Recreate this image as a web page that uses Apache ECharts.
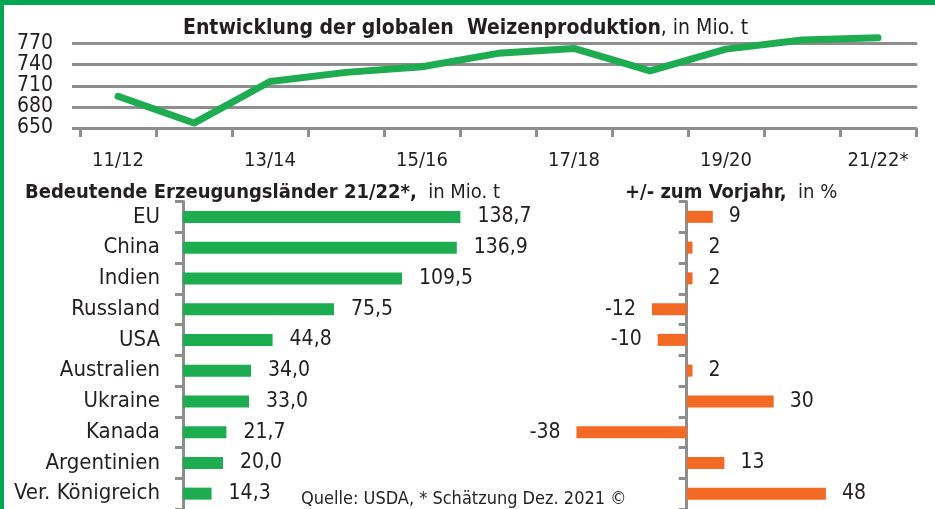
<!DOCTYPE html>
<html>
<head>
<meta charset="utf-8">
<script src="https://cdn.jsdelivr.net/npm/echarts@6/dist/echarts.min.js"></script>
<style>
  html, body { margin: 0; padding: 0; background: #fff; }
  #chart { width: 935px; height: 509px; }
</style>
</head>
<body>
<div id="chart"></div>
<script>
    // Weltweite Weizenproduktion, Mio. t
    var seasons = ['11/12', '12/13', '13/14', '14/15', '15/16', '16/17', '17/18', '18/19', '19/20', '20/21', '21/22*'];
    var production = [695, 657, 716, 729, 737, 756, 763, 731, 762, 775, 778];
    var yTicks = [650, 680, 710, 740, 770];

    // Erzeugungslaender 21/22
    var countries = ['EU', 'China', 'Indien', 'Russland', 'USA', 'Australien', 'Ukraine', 'Kanada', 'Argentinien', 'Ver. Königreich'];
    var volume = [138.7, 136.9, 109.5, 75.5, 44.8, 34.0, 33.0, 21.7, 20.0, 14.3];
    var change = [9, 2, 2, -12, -10, 2, 30, -38, 13, 48];

    var font = "'Liberation Sans Narrow', 'DejaVu Sans Condensed', Roboto, sans-serif";
    var ink = '#231f20';
    var gray = '#8e8e8e';
    var green = '#1dac50';
    var orange = '#f26a24';

    var catAxisBars = function (gridIndex, showLabels) {
        return {
            type: 'category',
            gridIndex: gridIndex,
            inverse: true,
            data: countries,
            axisLine: { show: true, onZero: true, lineStyle: { color: gray, width: 3 } },
            axisTick: { show: true, interval: 0, length: 8, lineStyle: { color: gray, width: 3 } },
            axisLabel: {
                show: showLabels, interval: 0, margin: 23,
                fontFamily: font, fontSize: 22, color: ink
            },
            splitLine: { show: false }
        };
    };

    var richTitle = function (size) {
        return {
            b: { fontFamily: font, fontSize: size, fontWeight: 'bold', color: ink },
            r: { fontFamily: font, fontSize: size, fontWeight: 'normal', color: ink }
        };
    };

    var option = {
        animation: false,
        backgroundColor: '#fff',
        textStyle: { fontFamily: font },
        grid: [
            { left: 80, top: 43.5, width: 836, height: 84.5 },
            { left: 183, top: 201.5, width: 400, height: 309 },
            { left: 541.7, top: 201.5, width: 319, height: 309 }
        ],
        xAxis: [
            {
                type: 'category',
                gridIndex: 0,
                data: seasons,
                boundaryGap: true,
                axisLine: { show: true, lineStyle: { color: gray, width: 3, cap: 'round' } },
                axisTick: { show: true, interval: 0, length: 9, lineStyle: { color: gray, width: 3 } },
                axisLabel: { interval: 1, margin: 23, fontFamily: font, fontSize: 20, color: ink }
            },
            { type: 'value', gridIndex: 1, min: 0, max: 200, show: false },
            { type: 'value', gridIndex: 2, min: -50, max: 60, show: false }
        ],
        yAxis: [
            {
                type: 'value',
                gridIndex: 0,
                min: yTicks[0],
                max: yTicks[yTicks.length - 1],
                interval: 30,
                axisLine: { show: false },
                axisTick: { show: true, length: 8, lineStyle: { color: gray, width: 3 } },
                axisLabel: {
                    margin: 27, fontFamily: font, fontSize: 21, color: ink,
                    showMinLabel: true, showMaxLabel: true, hideOverlap: false
                },
                splitLine: { show: true, lineStyle: { color: gray, width: 3, cap: 'round' } }
            },
            catAxisBars(1, true),
            catAxisBars(2, false)
        ],
        title: [
            {
                text: '{b|Entwicklung der globalen  Weizenproduktion}{r|, in Mio. t}',
                left: 183, top: 18, padding: 0,
                textStyle: { rich: richTitle(21) }
            },
            {
                text: '{b|Bedeutende Erzeugungsländer 21/22*,}{r|  in Mio. t}',
                left: 25, top: 183, padding: 0,
                textStyle: { rich: richTitle(20) }
            },
            {
                text: '{b|+/- zum Vorjahr,}{r|  in %}',
                left: 625, top: 183, padding: 0,
                textStyle: { rich: richTitle(20) }
            }
        ],
        graphic: [
            { type: 'rect', shape: { x: 0, y: 0, width: 935, height: 5 }, style: { fill: '#00a650' }, z: 100 },
            { type: 'rect', shape: { x: 0, y: 0, width: 4, height: 509 }, style: { fill: '#00a650' }, z: 100 },
            {
                type: 'text', left: 301, top: 490, z: 100,
                style: { text: 'Quelle: USDA, * Schätzung Dez. 2021 ©', fontFamily: font, fontSize: 18, fill: ink }
            }
        ],
        series: [
            {
                type: 'line',
                xAxisIndex: 0,
                yAxisIndex: 0,
                data: production,
                clip: false,
                symbol: 'none',
                lineStyle: { color: green, width: 7, cap: 'round', join: 'round' },
                z: 5
            },
            {
                type: 'bar',
                xAxisIndex: 1,
                yAxisIndex: 1,
                data: volume,
                barWidth: 12,
                itemStyle: { color: green },
                label: {
                    show: true, position: 'right', distance: 17,
                    fontFamily: font, fontSize: 21, color: ink,
                    formatter: function (p) { return p.value.toFixed(1).replace('.', ','); }
                }
            },
            {
                type: 'bar',
                xAxisIndex: 2,
                yAxisIndex: 2,
                data: change.map(function (v) {
                    return { value: v, label: { position: v < 0 ? 'left' : 'right' } };
                }),
                barWidth: 12,
                itemStyle: { color: orange },
                label: {
                    show: true, distance: 16,
                    fontFamily: font, fontSize: 21, color: ink,
                    formatter: function (p) { return String(p.value); }
                }
            }
        ]
    };

    var chart = echarts.init(document.getElementById('chart'));
    chart.setOption(option);
</script>
</body>
</html>
